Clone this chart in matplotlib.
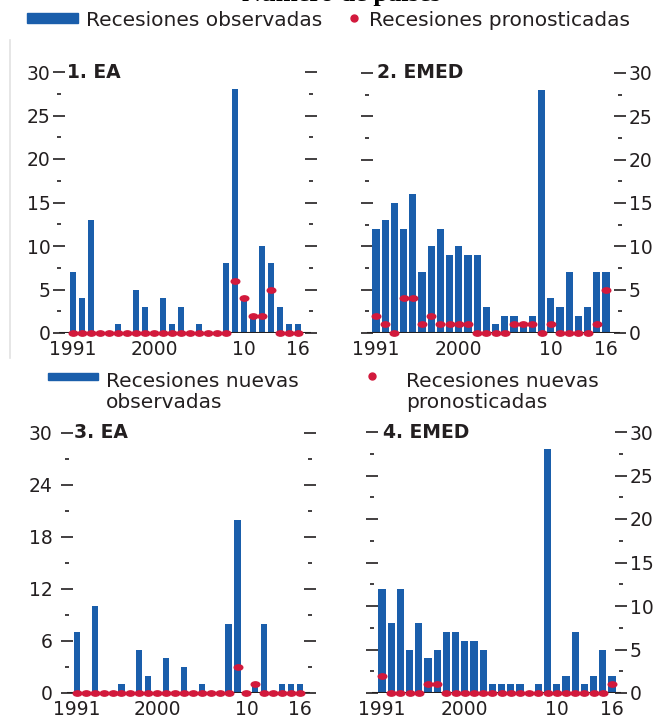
import numpy as np
import matplotlib.pyplot as plt
from matplotlib.patches import Rectangle
from matplotlib.lines import Line2D
from matplotlib.path import Path
from matplotlib.ticker import MultipleLocator
from matplotlib.transforms import ScaledTranslation

# ---- data ----
years = np.arange(1991, 2017)
xtick_years = [1991, 2000, 2010, 2016]
xtick_labels = ['1991', '2000', '10', '16']

ea_obs = [7, 4, 13, 0, 0, 1, 0, 5, 3, 0, 4, 1, 3, 0, 1, 0, 0, 8, 28, 4, 2, 10, 8, 3, 1, 1]
ea_pred = [0, 0, 0, 0, 0, 0, 0, 0, 0, 0, 0, 0, 0, 0, 0, 0, 0, 0, 6, 4, 2, 2, 5, 0, 0, 0]

emed_obs = [12, 13, 15, 12, 16, 7, 10, 12, 9, 10, 9, 9, 3, 1, 2, 2, 1, 2, 28, 4, 3, 7, 2, 3, 7, 7]
emed_pred = [2, 1, 0, 4, 4, 1, 2, 1, 1, 1, 1, 0, 0, 0, 0, 1, 1, 1, 0, 1, 0, 0, 0, 0, 1, 5]

ea_new_obs = [7, 0, 10, 0, 0, 1, 0, 5, 2, 0, 4, 0, 3, 0, 1, 0, 0, 8, 20, 0, 1, 8, 0, 1, 1, 1]
ea_new_pred = [0, 0, 0, 0, 0, 0, 0, 0, 0, 0, 0, 0, 0, 0, 0, 0, 0, 0, 3, 0, 1, 0, 0, 0, 0, 0]

emed_new_obs = [12, 8, 12, 5, 8, 4, 5, 7, 7, 6, 6, 5, 1, 1, 1, 1, 0, 1, 28, 1, 2, 7, 1, 2, 5, 2]
emed_new_pred = [2, 0, 0, 0, 0, 1, 1, 0, 0, 0, 0, 0, 0, 0, 0, 0, 0, 0, 0, 0, 0, 0, 0, 0, 0, 1]

BLUE = '#1a5eab'
RED = '#d2193c'
INK = '#231f20'

W, H = 656, 719
fig = plt.figure(figsize=(W / 100, H / 100), dpi=100)
plt.rcParams['font.family'] = 'DejaVu Sans'

# flattened circle used for the forecast dots
circ = Path.unit_circle()
dot = Path(circ.vertices * [1.0, 0.62], circ.codes)


def px(x, y):
    return x / W, 1 - y / H


def draw_panel(box, xlim, obs, pred, title, side, ymaj, ymin, bar_w, title_dx, ypad=2):
    l, t, r, b = box
    ax = fig.add_axes([l / W, 1 - b / H, (r - l) / W, (b - t) / H])
    ax.bar(years, obs, width=bar_w, color=BLUE, zorder=2)
    ax.axhline(0, color=INK, lw=1.5, zorder=3)
    ax.plot(years, pred, ls='none', marker=dot, ms=6.2, color=RED, mec=RED,
            zorder=4, clip_on=False)
    ax.set_xlim(*xlim)
    ax.set_ylim(0, 30)
    for s in ax.spines.values():
        s.set_visible(False)

    ax.yaxis.set_major_locator(MultipleLocator(ymaj))
    ax.yaxis.set_minor_locator(MultipleLocator(ymin))
    ax.tick_params(axis='y', which='both', left=True, right=True, direction='inout',
                   labelleft=(side == 'left'), labelright=(side == 'right'),
                   colors=INK, labelsize=13.5, pad=ypad)
    ax.tick_params(axis='y', which='major', length=8.5, width=1.2)
    ax.tick_params(axis='y', which='minor', length=3.5, width=1.2)

    ax.set_xticks(xtick_years, xtick_labels)
    ax.tick_params(axis='x', length=0, pad=5, colors=INK, labelsize=13.5)

    # the "0" on the left-hand scales sits a little further out
    if side == 'left':
        zero_lab = ax.yaxis.get_major_ticks()[0].label1
        zero_lab.set_transform(zero_lab.get_transform() +
                               ScaledTranslation(-0.08, 0, fig.dpi_scale_trans))

    ax.annotate(title, xy=(0, 1), xycoords='axes fraction', xytext=(title_dx, 0),
                textcoords='offset pixels', va='center', ha='left',
                fontsize=13.5, fontweight='bold', color=INK)
    return ax


ax1 = draw_panel((59, 72, 311, 333), (1989.44, 2017.44), ea_obs, ea_pred,
                 '1. EA', 'left', 5, 2.5, 0.72, 8)
ax2 = draw_panel((367, 73, 620, 333), (1990.02, 2017.52), emed_obs, emed_pred,
                 '2. EMED', 'right', 5, 2.5, 0.8, 10)
ax3 = draw_panel((67, 433, 310, 693), (1989.9, 2017.12), ea_new_obs, ea_new_pred,
                 '3. EA', 'left', 6, 3, 0.7, 7, ypad=6)
ax4 = draw_panel((372, 432, 621, 693), (1989.91, 2016.98), emed_new_obs, emed_new_pred,
                 '4. EMED', 'right', 5, 2.5, 0.8, 11)

# heading, mostly cut off at the top edge
fig.text(*px(341, 1), 'Número de países', ha='center', va='baseline',
         fontsize=19, fontweight='bold', family='Liberation Serif', color='black')

# faint frame line at the left of the upper block
fig.add_artist(Line2D([10 / W, 10 / W], [1 - 40 / H, 1 - 358 / H], color='#e2e2e2', lw=1.2))

# legend, upper block
fig.add_artist(Rectangle(px(27, 23), 51 / W, 10 / H, color=BLUE, transform=fig.transFigure))
fig.text(*px(86, 26), 'Recesiones observadas', fontsize=14.5, color=INK, va='baseline')
fig.add_artist(Line2D([354 / W], [1 - 18 / H], ls='none', marker='o', ms=5,
                      color=RED, transform=fig.transFigure))
fig.text(*px(369, 26), 'Recesiones pronosticadas', fontsize=14.5, color=INK, va='baseline')

# legend, lower block (baseline given for the last line)
fig.add_artist(Rectangle(px(48, 380), 50 / W, 7 / H, color=BLUE, transform=fig.transFigure))
fig.text(*px(106, 408), 'Recesiones nuevas\nobservadas', fontsize=14.5, color=INK,
         va='baseline', linespacing=1.15)
fig.add_artist(Line2D([372 / W], [1 - 376 / H], ls='none', marker='o', ms=5,
                      color=RED, transform=fig.transFigure))
fig.text(*px(406, 408), 'Recesiones nuevas\npronosticadas', fontsize=14.5, color=INK,
         va='baseline', linespacing=1.15)

fig.savefig('out.png', dpi=100)
